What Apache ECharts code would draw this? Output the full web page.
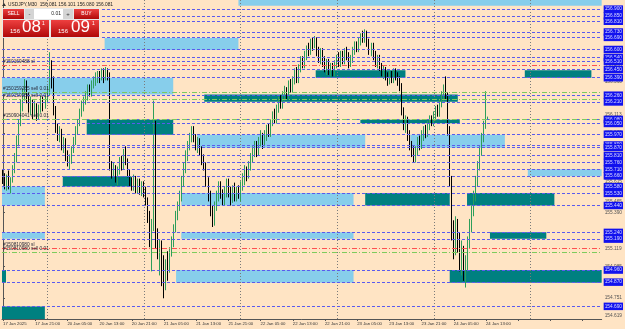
<!DOCTYPE html>
<html><head><meta charset="utf-8">
<script src="https://cdn.jsdelivr.net/npm/echarts@6/dist/echarts.min.js"></script>
<style>html,body{margin:0;padding:0;background:#ffe4c4}#c{width:625px;height:329px}</style>
</head><body><div id="c"></div>
<script>
// ---- data ----
const candles = [ // [open, close, low, high]
[155.68,155.64,155.60,155.71],[155.64,155.61,155.56,155.68],[155.61,155.65,155.55,155.67],[155.65,155.59,155.56,155.70],
[155.59,155.64,155.53,155.65],[155.64,155.71,155.61,155.74],[155.71,155.79,155.68,155.83],[155.79,155.92,155.76,155.96],
[155.92,156.05,155.88,156.08],[156.05,156.18,156.03,156.23],[156.18,156.26,156.14,156.31],[156.26,156.34,156.22,156.38],
[156.34,156.25,156.20,156.37],[156.25,156.16,156.13,156.28],[156.16,156.22,156.11,156.25],[156.22,156.13,156.08,156.23],
[156.13,156.17,156.10,156.22],[156.17,156.11,156.07,156.20],[156.11,156.16,156.08,156.19],[156.16,156.22,156.13,156.26],
[156.22,156.19,156.14,156.25],[156.19,156.23,156.16,156.26],[156.23,156.29,156.20,156.33],[156.29,156.48,156.26,156.58],
[156.48,156.37,156.31,156.52],[156.37,156.14,156.11,156.40],[156.14,156.01,155.98,156.18],[156.01,155.96,155.92,156.05],
[155.96,156.00,155.91,156.03],[156.00,155.88,155.85,156.01],[155.88,155.92,155.83,155.95],[155.92,155.81,155.77,155.94],
[155.81,155.76,155.73,155.85],[155.76,155.79,155.71,155.82],[155.79,155.86,155.75,155.88],[155.86,155.92,155.83,155.95],
[155.92,156.00,155.89,156.03],[156.00,156.05,155.97,156.08],[156.05,156.13,156.03,156.16],[156.13,156.18,156.10,156.22],
[156.18,156.22,156.14,156.25],[156.22,156.26,156.19,156.29],[156.26,156.31,156.22,156.34],[156.31,156.28,156.25,156.34],
[156.28,156.34,156.25,156.37],[156.34,156.37,156.31,156.40],[156.37,156.38,156.33,156.43],[156.38,156.41,156.35,156.44],
[156.41,156.38,156.35,156.44],[156.38,156.43,156.37,156.46],[156.43,156.40,156.35,156.46],[156.40,156.44,156.37,156.47],
[156.44,156.40,156.37,156.46],[156.40,155.74,155.70,156.43],[155.74,155.68,155.64,155.77],[155.68,155.71,155.65,155.76],
[155.71,155.64,155.61,155.74],[155.64,155.70,155.59,155.73],[155.70,155.77,155.67,155.80],[155.77,155.74,155.70,155.81],
[155.74,155.83,155.71,155.86],[155.83,155.77,155.74,155.88],[155.77,155.68,155.65,155.79],[155.68,155.62,155.58,155.71],
[155.62,155.59,155.55,155.65],[155.59,155.64,155.55,155.67],[155.64,155.58,155.53,155.66],[155.58,155.61,155.53,155.64],
[155.61,155.56,155.52,155.64],[155.56,155.59,155.51,155.62],[155.59,155.55,155.50,155.62],[155.55,155.47,155.44,155.58],
[155.47,155.36,155.31,155.50],[155.36,155.18,155.13,155.40],[155.18,155.29,154.95,155.34],[155.29,156.03,155.25,156.22],
[156.03,155.21,155.12,156.07],[155.21,155.10,155.04,155.27],[155.10,155.14,154.92,155.19],[155.14,154.99,154.84,155.18],
[154.99,154.92,154.75,155.07],[154.92,155.01,154.81,155.04],[155.01,154.97,154.88,155.10],[154.97,155.10,154.94,155.13],
[155.10,155.18,155.06,155.21],[155.18,155.27,155.13,155.30],[155.27,155.36,155.24,155.40],[155.36,155.44,155.33,155.47],
[155.44,155.51,155.40,155.55],[155.51,155.62,155.47,155.66],[155.62,155.71,155.58,155.76],[155.71,155.81,155.68,155.85],
[155.81,155.88,155.77,155.92],[155.88,155.94,155.85,155.98],[155.94,156.00,155.91,156.03],[156.00,155.94,155.91,156.03],
[155.94,155.88,155.85,155.97],[155.88,155.92,155.83,155.95],[155.92,155.85,155.81,155.94],[155.85,155.79,155.74,155.88],
[155.79,155.74,155.70,155.82],[155.74,155.62,155.58,155.76],[155.62,155.51,155.47,155.65],[155.51,155.40,155.36,155.55],
[155.40,155.33,155.28,155.44],[155.33,155.44,155.29,155.47],[155.44,155.51,155.40,155.55],[155.51,155.59,155.47,155.62],
[155.59,155.53,155.49,155.62],[155.53,155.47,155.44,155.56],[155.47,155.55,155.44,155.58],[155.55,155.61,155.50,155.64],
[155.61,155.53,155.50,155.64],[155.53,155.49,155.44,155.58],[155.49,155.56,155.46,155.59],[155.56,155.50,155.47,155.61],
[155.50,155.55,155.47,155.58],[155.55,155.51,155.49,155.59],[155.51,155.59,155.47,155.62],[155.59,155.64,155.55,155.68],
[155.64,155.70,155.59,155.74],[155.70,155.66,155.62,155.73],[155.66,155.74,155.64,155.77],[155.74,155.79,155.70,155.83],
[155.79,155.85,155.76,155.88],[155.85,155.88,155.80,155.92],[155.88,155.83,155.80,155.92],[155.83,155.92,155.81,155.95],
[155.92,155.96,155.88,156.00],[155.96,155.91,155.86,155.98],[155.91,155.95,155.88,156.00],[155.95,156.01,155.92,156.04],
[156.01,155.98,155.95,156.05],[155.98,156.05,155.95,156.08],[156.05,156.11,156.03,156.14],[156.11,156.08,156.05,156.16],
[156.08,156.16,156.05,156.19],[156.16,156.22,156.13,156.25],[156.22,156.19,156.16,156.26],[156.19,156.26,156.16,156.29],
[156.26,156.29,156.22,156.33],[156.29,156.26,156.23,156.32],[156.26,156.33,156.23,156.37],[156.33,156.31,156.28,156.38],
[156.31,156.37,156.28,156.40],[156.37,156.43,156.34,156.46],[156.43,156.38,156.35,156.47],[156.38,156.46,156.35,156.49],
[156.46,156.52,156.43,156.55],[156.52,156.49,156.46,156.55],[156.49,156.55,156.46,156.59],[156.55,156.61,156.52,156.63],
[156.61,156.58,156.55,156.65],[156.58,156.65,156.56,156.68],[156.65,156.63,156.59,156.69],[156.63,156.66,156.61,156.70],
[156.66,156.59,156.55,156.69],[156.59,156.53,156.50,156.62],[156.53,156.58,156.49,156.61],[156.58,156.52,156.47,156.61],
[156.52,156.46,156.43,156.55],[156.46,156.50,156.41,156.53],[156.50,156.44,156.41,156.53],[156.44,156.47,156.40,156.50],
[156.47,156.43,156.40,156.50],[156.43,156.48,156.40,156.52],[156.48,156.53,156.46,156.56],[156.53,156.50,156.47,156.58],
[156.50,156.55,156.47,156.59],[156.55,156.52,156.49,156.59],[156.52,156.58,156.49,156.61],[156.58,156.55,156.52,156.62],
[156.55,156.50,156.46,156.58],[156.50,156.53,156.47,156.56],[156.53,156.59,156.50,156.62],[156.59,156.63,156.56,156.66],
[156.63,156.61,156.58,156.66],[156.61,156.66,156.58,156.69],[156.66,156.69,156.63,156.72],[156.69,156.68,156.65,156.74],
[156.68,156.72,156.65,156.75],[156.72,156.65,156.62,156.74],[156.65,156.59,156.56,156.68],[156.59,156.63,156.55,156.65],
[156.63,156.55,156.52,156.65],[156.55,156.50,156.47,156.59],[156.50,156.53,156.46,156.56],[156.53,156.47,156.44,156.56],
[156.47,156.43,156.40,156.50],[156.43,156.44,156.38,156.48],[156.44,156.40,156.37,156.47],[156.40,156.37,156.33,156.43],
[156.37,156.40,156.34,156.44],[156.40,156.38,156.35,156.44],[156.38,156.43,156.35,156.46],[156.43,156.40,156.37,156.46],
[156.40,156.37,156.33,156.43],[156.37,156.33,156.29,156.40],[156.33,156.14,156.11,156.35],[156.14,156.03,156.00,156.17],
[156.03,156.07,155.98,156.11],[156.07,155.96,155.92,156.10],[155.96,155.88,155.85,156.00],[155.88,155.85,155.80,155.92],
[155.85,155.79,155.76,155.88],[155.79,155.85,155.76,155.88],[155.85,155.92,155.81,155.95],[155.92,155.88,155.85,155.96],
[155.88,155.96,155.86,156.00],[155.96,156.00,155.92,156.03],[156.00,155.98,155.94,156.04],[155.98,156.03,155.95,156.07],
[156.03,156.07,156.00,156.11],[156.07,156.05,156.03,156.11],[156.05,156.11,156.03,156.14],[156.11,156.14,156.07,156.18],
[156.14,156.13,156.10,156.19],[156.13,156.20,156.10,156.23],[156.20,156.25,156.17,156.29],[156.25,156.29,156.22,156.34],
[156.29,156.26,156.23,156.40],[156.26,156.00,155.96,156.28],[156.00,155.62,155.58,156.03],[155.62,155.25,155.18,155.66],
[155.25,155.10,155.04,155.33],[155.10,155.29,155.07,155.36],[155.29,155.18,155.09,155.34],[155.18,155.03,154.95,155.24],
[155.03,155.10,154.92,155.18],[155.10,154.95,154.88,155.14],[154.95,155.01,154.83,155.07],[155.01,155.18,154.95,155.21],
[155.18,155.29,155.12,155.34],[155.29,155.40,155.24,155.44],[155.40,155.51,155.36,155.55],[155.51,155.62,155.47,155.66],
[155.62,155.74,155.58,155.77],[155.74,155.85,155.70,155.88],[155.85,155.94,155.81,155.98],[155.94,156.03,155.91,156.07],
[156.03,156.08,156.01,156.29],[156.081,156.081,156.080,156.101]
];
const slotCount = 298;
const tickLabels = ['17 Jan 2025','17 Jan 21:00','20 Jan 05:00','20 Jan 13:00','20 Jan 21:00','21 Jan 05:00','21 Jan 13:00','21 Jan 21:00','22 Jan 05:00','22 Jan 13:00','22 Jan 21:00','23 Jan 05:00','23 Jan 13:00','23 Jan 21:00','24 Jan 05:00','24 Jan 13:00'];
const tickEvery = 16;
const priceMin = 154.596, priceMax = 156.968;
const blueLevels = [156.903,156.851,156.807,156.728,156.685,156.596,156.542,156.508,156.446,156.390,156.265,156.212,156.078,156.052,155.966,155.894,155.869,155.806,155.762,155.709,155.658,155.581,155.532,155.440,155.241,155.192,154.960,154.866,154.689];
const grayTicks = [154.619,154.751,154.985,155.119,155.390,155.465,155.615,155.979,156.113,156.360,156.478];
const daySeparators = [22,70,118,166,214,262];
// zones: bar index start/end, price top/bottom, kind (0 light, 1 teal)
const zoneStart  = [117,   50.5,  -0.5,  100,   155.4, 259.3, 177.6, 41.6,  96.5,  202.4, 260.8, 29.7,  -0.5,  88.6,  180,   230.6, -0.5,  88.6,  242,   -0.5,  86,    222,   -0.5];
const zoneEnd    = [297.5, 117,   84.6,  226,   200,   292.4, 227,   84.6,  180,   249.4, 297.5, 63.8,  20.8,  174.2, 222,   274,   20.8,  174.2, 270,   1.5,   174.2, 297.5, 20.8];
const zoneTop    = [156.968,156.685,156.390,156.265,156.446,156.446,156.078,156.078,155.966,155.966,155.709,155.658,155.581,155.532,155.532,155.532,155.241,155.241,155.241,154.960,154.960,154.960,154.689];
const zoneBottom = [156.925,156.596,156.265,156.212,156.390,156.390,156.052,155.966,155.869,155.869,155.658,155.581,155.440,155.440,155.440,155.440,155.192,155.192,155.192,154.866,154.866,154.866,154.596];
const zoneKind   = [0,0,0,1,1,1,1,1,0,0,0,1,0,0,1,1,0,0,1,1,0,1,1];
const tradeLevels = [156.477,156.277,156.232,156.080,155.124,155.094];
const tradeNames  = ['#150169488 sl','#150159265 sell 0.01','#150159266 sell 0.01','#150904041 sell 0.01','#150810980 sl','#150810980 sell 0.01'];
const tradeIsStop = [1,0,0,0,1,0];
const header = 'USDJPY,M30  156.081 156.101 156.080 156.081';

// ---- chart ----
const cats = Array.from({length: slotCount}, (_, i) => String(i));
const chart = echarts.init(document.getElementById('c'), null, {renderer: 'canvas'});
const G = echarts.graphic;
const redGrad = () => new G.LinearGradient(0,0,0,1,[{offset:0,color:'#ee4040'},{offset:1,color:'#b00808'}]);

const markData = blueLevels.map(v => ({
  yAxis: v,
  lineStyle: {color: '#5a5aee', type: [3,2], width: 1},
  label: {show: true, position: 'end', distance: 2, formatter: p => Number(p.value).toFixed(3),
    fontSize: 4.8, fontFamily: 'Liberation Sans', color: '#dcdcff', backgroundColor: '#1212ee', padding: [1.5,1,1,1]}
})).concat(tradeLevels.map((v, i) => ({
  yAxis: v, name: tradeNames[i],
  lineStyle: {color: tradeIsStop[i] ? '#ff5050' : '#7ccc5c', type: [5,2,1,2], width: 1},
  label: {show: true, position: 'insideStartTop', distance: 1, formatter: p => p.name,
    fontSize: 4.8, fontFamily: 'Liberation Sans', color: '#2a2a3a'}
})));

const option = {
  animation: false,
  backgroundColor: '#ffe4c4',
  grid: {left: 0, right: 23, top: 0, bottom: 10},
  xAxis: [{
    type: 'category', data: cats, boundaryGap: true,
    axisLine: {lineStyle: {color: '#555', width: 1}},
    axisTick: {show: true, interval: (i) => i % tickEvery === 0, alignWithLabel: true, length: 2, lineStyle: {color: '#555'}},
    axisLabel: {interval: (i) => i % tickEvery === 0, formatter: (v, i) => tickLabels[i / tickEvery] || '',
      align: 'left', fontSize: 4.3, fontFamily: 'Liberation Sans', color: '#333', margin: 3},
    splitLine: {show: false}
  }, {
    type: 'value', min: -0.5, max: slotCount - 0.5, show: false
  }],
  yAxis: {
    type: 'value', position: 'right', min: priceMin, max: priceMax, scale: true,
    splitLine: {show: false},
    axisLine: {show: true, lineStyle: {color: '#555'}},
    axisTick: {show: true, customValues: grayTicks, length: 2, lineStyle: {color: '#555'}},
    axisLabel: {customValues: grayTicks, formatter: v => Number(v).toFixed(3), fontSize: 4.8,
      fontFamily: 'Liberation Sans', color: '#555', margin: 3}
  },
  series: [{
    type: 'custom', xAxisIndex: 1, yAxisIndex: 0, silent: true, z: 1,
    data: zoneStart.map((s, i) => [s, zoneEnd[i], zoneTop[i], zoneBottom[i]]),
    encode: {x: [0, 1], y: [2, 3]},
    renderItem: (params, api) => {
      const a = api.coord([api.value(0), api.value(2)]);
      const b = api.coord([api.value(1), api.value(3)]);
      return {type: 'rect', shape: {x: a[0], y: a[1], width: b[0] - a[0], height: b[1] - a[1]},
        style: {fill: zoneKind[params.dataIndex] ? '#008080' : '#87ceeb'}};
    }
  }, {
    type: 'custom', xAxisIndex: 1, yAxisIndex: 0, silent: true, z: 2,
    data: daySeparators.map(d => [d]),
    encode: {x: 0},
    renderItem: (params, api) => {
      const x = Math.round(api.coord([api.value(0), priceMin])[0]) + 0.5;
      const cs = params.coordSys;
      return {type: 'line', shape: {x1: x, y1: cs.y, x2: x, y2: cs.y + cs.height},
        style: {stroke: '#7a7a7a', lineWidth: 1, lineDash: [1, 2]}};
    }
  }, {
    type: 'candlestick', xAxisIndex: 0, yAxisIndex: 0, z: 3,
    data: candles, barWidth: 1,
    itemStyle: {color: '#2e9e5a', color0: '#000000', borderColor: '#2e9e5a', borderColor0: '#000000', borderWidth: 1},
    markLine: {silent: true, symbol: ['none', 'none'], animation: false, data: markData}
  }],
  graphic: [
    {type: 'polygon', z: 100, shape: {points: [[2,6],[6,6],[4,3]]}, style: {fill: '#333'}},
    {type: 'text', z: 100, x: 8, y: 2, style: {text: header, fontSize: 4.8, fontFamily: 'Liberation Sans', fill: '#222'}},
    {type: 'rect', z: 100, shape: {x: 2, y: 8, width: 98, height: 30}, style: {fill: '#e8e8e8'}},
    {type: 'rect', z: 101, shape: {x: 3, y: 9, width: 21, height: 10}, style: {fill: redGrad()}},
    {type: 'text', z: 102, x: 13.5, y: 14, style: {text: 'SELL', fontSize: 5, fontFamily: 'Liberation Sans', fill: '#fff', align: 'center', verticalAlign: 'middle'}},
    {type: 'rect', z: 101, shape: {x: 25, y: 9, width: 9, height: 10}, style: {fill: '#d4d4d4'}},
    {type: 'text', z: 102, x: 29.5, y: 14, style: {text: '-', fontSize: 6, fontFamily: 'Liberation Sans', fill: '#333', align: 'center', verticalAlign: 'middle'}},
    {type: 'rect', z: 101, shape: {x: 34, y: 9, width: 29, height: 10}, style: {fill: '#ffffff'}},
    {type: 'text', z: 102, x: 61, y: 14, style: {text: '0.01', fontSize: 5, fontFamily: 'Liberation Sans', fill: '#222', align: 'right', verticalAlign: 'middle'}},
    {type: 'rect', z: 101, shape: {x: 63, y: 9, width: 10, height: 10}, style: {fill: '#d4d4d4'}},
    {type: 'text', z: 102, x: 68, y: 14, style: {text: '+', fontSize: 6, fontFamily: 'Liberation Sans', fill: '#333', align: 'center', verticalAlign: 'middle'}},
    {type: 'rect', z: 101, shape: {x: 74, y: 9, width: 25, height: 10}, style: {fill: redGrad()}},
    {type: 'text', z: 102, x: 86.5, y: 14, style: {text: 'BUY', fontSize: 5, fontFamily: 'Liberation Sans', fill: '#fff', align: 'center', verticalAlign: 'middle'}},
    {type: 'rect', z: 101, shape: {x: 3, y: 20, width: 46, height: 17}, style: {fill: redGrad()}},
    {type: 'rect', z: 101, shape: {x: 51, y: 20, width: 48, height: 17}, style: {fill: redGrad()}},
    {type: 'text', z: 102, x: 10, y: 34, style: {text: '156', fontSize: 6, fontFamily: 'Liberation Sans', fill: '#fff', verticalAlign: 'bottom'}},
    {type: 'text', z: 102, x: 22, y: 36, style: {text: '08', fontSize: 17, fontFamily: 'Liberation Sans', fill: '#fff', verticalAlign: 'bottom'}},
    {type: 'text', z: 102, x: 42, y: 21, style: {text: '1', fontSize: 5, fontFamily: 'Liberation Sans', fill: '#fff'}},
    {type: 'text', z: 102, x: 58, y: 34, style: {text: '156', fontSize: 6, fontFamily: 'Liberation Sans', fill: '#fff', verticalAlign: 'bottom'}},
    {type: 'text', z: 102, x: 71, y: 36, style: {text: '09', fontSize: 17, fontFamily: 'Liberation Sans', fill: '#fff', verticalAlign: 'bottom'}},
    {type: 'text', z: 102, x: 92, y: 21, style: {text: '1', fontSize: 5, fontFamily: 'Liberation Sans', fill: '#fff'}}
  ]
};
chart.setOption(option);
</script>
</body></html>
